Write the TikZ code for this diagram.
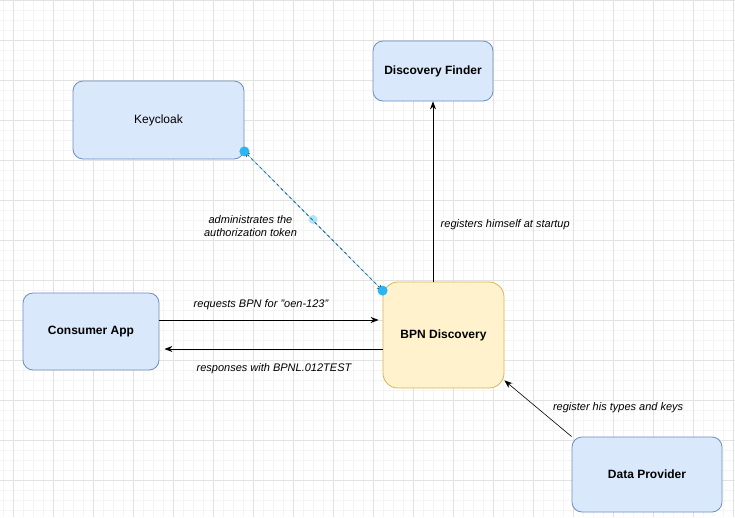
\documentclass[tikz,border=0pt]{standalone}
\usepackage{fontspec}
\setmainfont{Liberation Sans}
\usetikzlibrary{arrows.meta}

\definecolor{boxblue}{HTML}{DAE8FC}
\definecolor{lineblue}{HTML}{6C8EBF}
\definecolor{boxyellow}{HTML}{FFF2CC}
\definecolor{lineyellow}{HTML}{D6B656}
\definecolor{selblue}{HTML}{29B6F2}
\definecolor{gridmajor}{HTML}{E2E2E2}
\definecolor{gridminor}{HTML}{F4F4F4}

\tikzset{
  service/.style={draw=lineblue, fill=boxblue, rounded corners=10pt, font=\bfseries\fontsize{12}{14}\selectfont, line width=0.8pt},
  flow/.style={-{Stealth[length=8pt,width=6pt]}, line width=0.8pt},
  label/.style={font=\itshape\fontsize{11}{13}\selectfont, align=center}
}

\begin{document}
\begin{tikzpicture}[x=1pt,y=-1pt]
  % Fix the size of the picture
  \useasboundingbox (0,0) rectangle (735,517);
  \fill[white] (0,0) rectangle (735,517);

  % Draw the minor grid lines
  \foreach \x in {3,13,...,733}
    \draw[gridminor, line width=0.6pt] (\x,0) -- (\x,517);
  \foreach \y in {0,10,...,510}
    \draw[gridminor, line width=0.6pt] (0,\y) -- (735,\y);

  % Draw the major grid lines
  \foreach \x in {13,53,...,733}
    \draw[gridmajor, line width=0.8pt] (\x,0) -- (\x,517);
  \foreach \y in {0,40,...,510}
    \draw[gridmajor, line width=0.8pt] (0,\y) -- (735,\y);

  % Draw the boxes
  \node[service, font=\fontsize{12}{14}\selectfont, minimum width=171pt, minimum height=78pt] (keycloak) at (158.5,120) {Keycloak};
  \node[service, minimum width=120pt, minimum height=60pt] (finder) at (433,71) {Discovery Finder};
  \node[service, minimum width=136pt, minimum height=77pt] (consumer) at (91,331.5) {Consumer App};
  \node[service, draw=lineyellow, fill=boxyellow, rounded corners=15pt, minimum width=121pt, minimum height=106pt] (bpn) at (443.5,335) {BPN Discovery};
  \node[service, minimum width=150pt, minimum height=75pt] (provider) at (647,474.5) {Data Provider};

  % Draw the link between Keycloak and BPN Discovery
  \draw[{Stealth[length=6pt,width=5pt]}-{Stealth[length=6pt,width=5pt]}, dashed, line width=0.7pt]
    ([yshift=8pt]keycloak.south east) -- ([yshift=-9pt]bpn.north west)
    node[label, midway, xshift=-63pt, yshift=-5pt] {administrates the\\authorization token};
  \draw[selblue, line width=0.3pt] ([yshift=8pt]keycloak.south east) -- ([yshift=-9pt]bpn.north west);

  % Draw the selection handles
  \fill[selblue] ([yshift=8pt]keycloak.south east) circle (5pt);
  \fill[selblue] ([yshift=-9pt]bpn.north west) circle (5pt);
  \fill[selblue, opacity=0.35] (313,219.5) circle (4.5pt);

  % Draw the arrow to the Discovery Finder
  \draw[flow] (finder.south |- bpn.north) -- (finder.south)
    node[label, pos=0.315, anchor=west, xshift=4pt] {registers himself at startup};

  % Draw the request and the response
  \draw[flow, shorten >=4pt] ([yshift=11.5pt]consumer.east) -- ([yshift=15pt]bpn.west)
    node[label, midway, above=6pt, xshift=-10pt] {requests BPN for "oen-123"};
  \draw[flow, shorten >=5pt] ([yshift=-14pt]bpn.west) -- ([yshift=-17.5pt]consumer.east)
    node[label, midway, below=11pt, xshift=3pt] {responses with BPNL.012TEST};

  % Draw the arrow from the Data Provider
  \draw[flow, line width=0.6pt] (provider.north west) -- ([yshift=8pt]bpn.south east)
    node[label, pos=0.45, anchor=west, xshift=8pt, yshift=4pt] {register his types and keys};
\end{tikzpicture}
\end{document}
